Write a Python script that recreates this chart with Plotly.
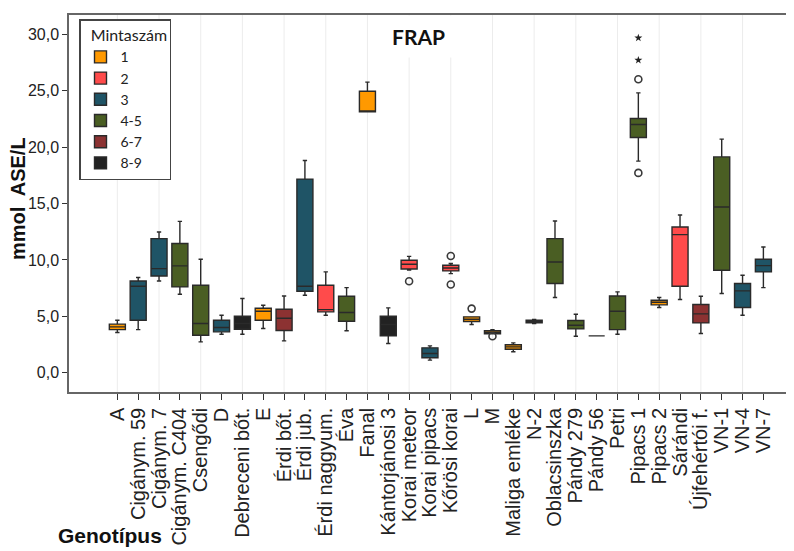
import plotly.graph_objects as go

categories = ["A", "Cigánym. 59", "Cigánym. 7", "Cigánym. C404", "Csengődi", "D",
              "Debreceni bőt.", "E", "Érdi bőt.", "Érdi jub.", "Érdi naggyum.", "Éva",
              "Fanal", "Kántorjánosi 3", "Korai meteor", "Korai pipacs", "Kőrösi korai",
              "L", "M", "Maliga emléke", "N-2", "Oblacsinszka", "Pándy 279", "Pándy 56",
              "Petri", "Pipacs 1", "Pipacs 2", "Sárándi", "Újfehértói f.", "VN-1", "VN-4", "VN-7"]
groups = ["1", "3", "3", "4-5", "4-5", "3", "8-9", "1", "6-7", "3", "2", "4-5",
          "1", "8-9", "2", "3", "2", "1", "1", "1", "8-9", "4-5", "4-5", "8-9",
          "4-5", "4-5", "1", "2", "6-7", "4-5", "3", "3"]
lower = [3.57, 3.83, 8.14, 6.96, 2.74, 3.42, 3.42, 3.92, 2.83, 6.87, 5.10, 3.72,
         23.12, 2.60, 9.10, 1.12, 8.79, 4.28, 3.45, 1.86, 4.37, 6.67, 3.24, 3.27,
         3.42, 18.75, 5.78, 6.49, 3.48, 7.02, 5.10, 7.55]
q1 = [3.83, 4.66, 8.58, 7.61, 3.33, 3.63, 3.86, 4.66, 3.75, 7.23, 5.40, 4.57,
      23.12, 3.27, 9.20, 1.33, 9.03, 4.54, 3.45, 2.09, 4.42, 7.91, 3.89, 3.27,
      3.83, 20.85, 6.02, 7.67, 4.42, 9.09, 5.78, 8.94]
median = [4.07, 7.67, 9.23, 9.47, 4.37, 4.01, 4.37, 5.46, 4.84, 7.67, 5.60, 5.34,
          23.20, 4.28, 9.62, 1.71, 9.29, 4.75, 3.57, 2.30, 4.54, 9.82, 4.22, 3.27,
          5.46, 22.00, 6.25, 12.24, 5.22, 14.69, 7.26, 9.50]
q3 = [4.31, 8.14, 11.89, 11.45, 7.76, 4.66, 5.01, 5.72, 5.63, 17.16, 7.76, 6.78,
      24.95, 5.01, 9.97, 2.21, 9.53, 4.96, 3.72, 2.48, 4.66, 11.89, 4.63, 3.27,
      6.81, 22.53, 6.43, 12.92, 6.05, 19.13, 7.91, 10.06]
upper = [4.66, 8.44, 12.48, 13.42, 10.06, 5.10, 6.58, 5.99, 6.81, 18.81, 8.94, 7.55,
         25.75, 5.75, 10.32, 2.39, 9.68, 4.96, 3.83, 2.65, 4.72, 13.45, 5.19, 3.27,
         7.17, 24.80, 6.67, 13.98, 6.78, 20.70, 8.64, 11.15]

outlier_cats = ["Korai meteor", "Kőrösi korai", "Kőrösi korai", "L", "M", "Pipacs 1", "Pipacs 1"]
outlier_vals = [8.11, 10.35, 7.82, 5.69, 3.24, 26.01, 17.71]
extreme_cats = ["Pipacs 1", "Pipacs 1"]
extreme_vals = [27.70, 29.67]

legend_groups = ["1", "2", "3", "4-5", "6-7", "8-9"]
group_colors = {"1": "#FF9900", "2": "#FF4B4B", "3": "#1F5466",
                "4-5": "#4A5E23", "6-7": "#8C3232", "8-9": "#222222"}

idx = {c: i for i, c in enumerate(categories)}

fig = go.Figure()
for g in legend_groups:
    ii = [i for i, gg in enumerate(groups) if gg == g]
    fig.add_trace(go.Box(
        x=ii,
        q1=[q1[i] for i in ii], median=[median[i] for i in ii], q3=[q3[i] for i in ii],
        lowerfence=[lower[i] for i in ii], upperfence=[upper[i] for i in ii],
        name=g, fillcolor=group_colors[g],
        line=dict(color="#2a2a2a", width=1.4),
        width=0.77, whiskerwidth=0.27, boxpoints=False,
        hoverinfo="skip",
    ))

fig.add_trace(go.Scatter(
    x=[idx[c] for c in outlier_cats], y=outlier_vals, mode="markers", showlegend=False,
    marker=dict(symbol="circle-open", size=7, color="#3a3a3a", line=dict(width=1.6)),
))
fig.add_trace(go.Scatter(
    x=[idx[c] for c in extreme_cats], y=extreme_vals, mode="markers", showlegend=False,
    marker=dict(symbol="star", size=6, color="#222222"),
))

shapes = []
for i in range(0, len(categories), 2):
    shapes.append(dict(type="line", xref="x", yref="paper", x0=i, x1=i, y0=0, y1=1,
                       line=dict(color="#ececec", width=1), layer="below"))

# page body has an 8px margin; plot area is placed so that it lands at
# screen x 69..802 and y 15..392
PW, PH = 733.0, 377.0
def px(sx):
    return (sx - 69) / PW
def py(sy):
    return (392 - sy) / PH

fig.update_layout(
    width=794, height=551,
    margin=dict(l=61, r=0, t=7, b=167),
    paper_bgcolor="white", plot_bgcolor="white",
    separators=",.",
    boxmode="overlay",
    shapes=shapes,
    font=dict(family="Liberation Sans, Arial, sans-serif", color="#222222"),
    xaxis=dict(
        range=[-2.32, -2.32 + PW / 20.84], tickmode="array", tickvals=list(range(len(categories))),
        ticktext=categories, tickangle=-90, ticks="outside", ticklen=6, tickwidth=1.2,
        tickcolor="#333333", showline=True, linecolor="#666666", linewidth=1.5,
        mirror=True, showgrid=False, zeroline=False, automargin=False,
        tickfont=dict(size=20, family="Liberation Sans, Arial, sans-serif", color="#222222"),
    ),
    yaxis=dict(
        range=[-1.7, 31.7], tickmode="array", tickvals=[0, 5, 10, 15, 20, 25, 30],
        tickformat=".1f", ticks="outside", ticklen=5, tickwidth=1.2, tickcolor="#333333",
        showline=True, linecolor="#666666", linewidth=1.5, showgrid=False, zeroline=False,
        automargin=False,
        tickfont=dict(size=16, color="#222222"),
    ),
    legend=dict(
        x=px(79), y=py(19), xanchor="left", yanchor="top",
        bordercolor="#444444", borderwidth=1.5, bgcolor="white",
        title=dict(text="\u00a0\u00a0Mintaszám", font=dict(family="Lato, sans-serif", size=16)),
        font=dict(family="Lato, sans-serif", size=14, color="#222222"),
        traceorder="normal",
    ),
    annotations=[
        dict(text="<b>FRAP</b>", xref="paper", yref="paper", x=px(418), y=py(37),
             xanchor="center", yanchor="middle", showarrow=False, bgcolor="white", borderpad=8,
             font=dict(family="Lato, sans-serif", size=21, color="#111111")),
        dict(text="<b>mmol  ASE/L</b>", xref="paper", yref="paper", x=px(18),
             y=py(199), xanchor="center", yanchor="middle", textangle=-90,
             showarrow=False, font=dict(size=20, color="#111111")),
        dict(text="<b>Genotípus</b>", xref="paper", yref="paper", x=px(110),
             y=py(535), xanchor="center", yanchor="middle",
             showarrow=False, font=dict(size=21, color="#111111")),
    ],
)

fig.write_html("out.html")
